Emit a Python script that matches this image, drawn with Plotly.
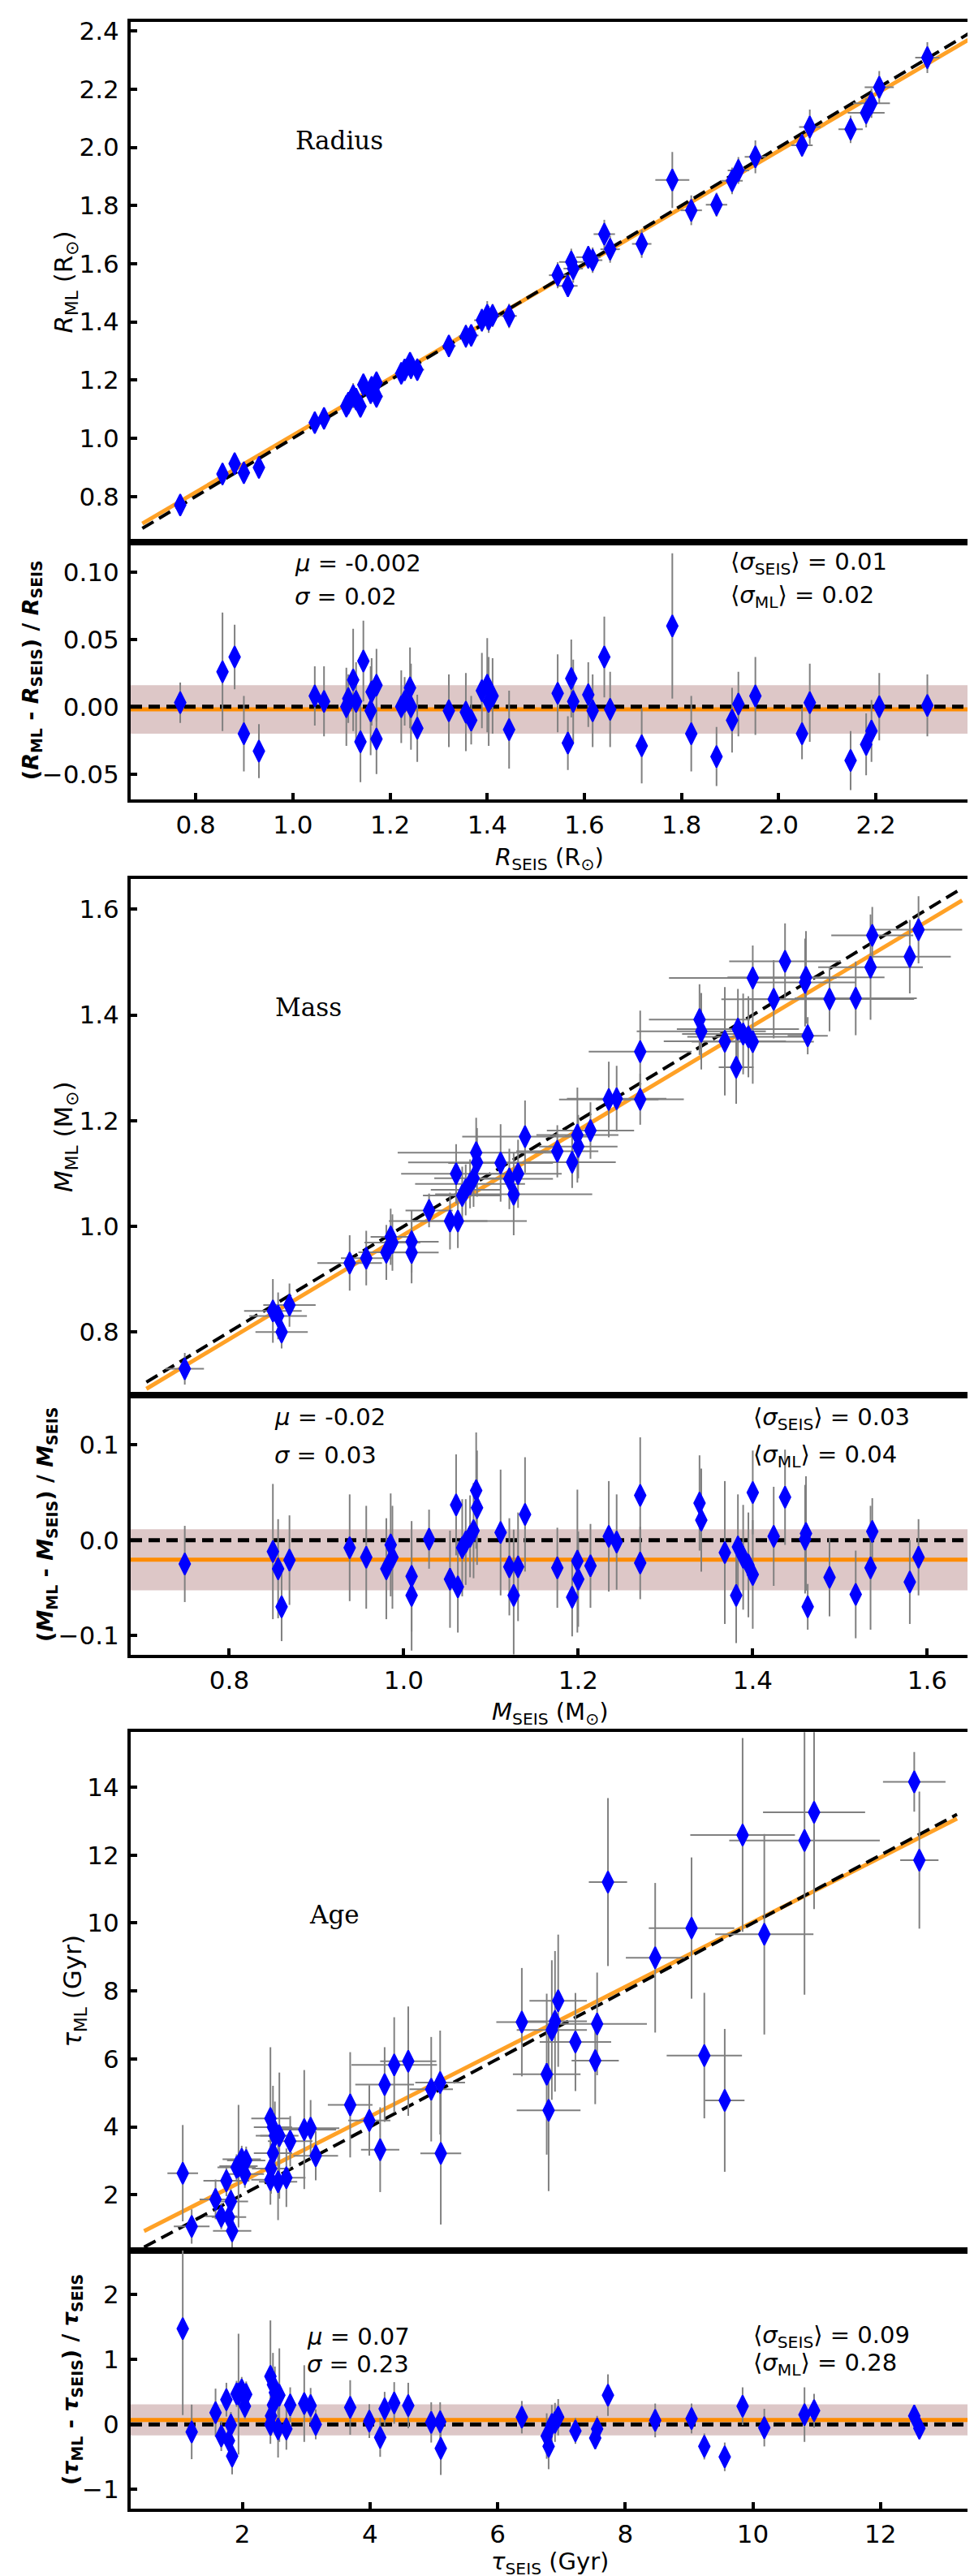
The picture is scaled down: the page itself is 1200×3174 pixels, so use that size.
import plotly.graph_objects as go

# ---------------- Radius ----------------
rad_seis = [0.768, 0.855, 0.880, 0.899, 0.930, 1.045, 1.064, 1.110, 1.114, 1.124,
            1.130, 1.139, 1.145, 1.160, 1.162, 1.172, 1.172, 1.223, 1.230, 1.241,
            1.243, 1.256, 1.321, 1.356, 1.367, 1.389, 1.400, 1.403, 1.411, 1.445,
            1.545, 1.566, 1.573, 1.577, 1.608, 1.617, 1.641, 1.653, 1.718, 1.781,
            1.820, 1.872, 1.904, 1.917, 1.952, 2.048, 2.064, 2.148, 2.180, 2.191,
            2.207, 2.306]
rad_seis_err = [0.008, 0.009, 0.009, 0.009, 0.010, 0.011, 0.011, 0.012, 0.011, 0.012,
                0.012, 0.012, 0.012, 0.013, 0.012, 0.013, 0.013, 0.013, 0.013, 0.013,
                0.014, 0.014, 0.014, 0.015, 0.015, 0.016, 0.016, 0.016, 0.016, 0.016,
                0.018, 0.020, 0.025, 0.020, 0.025, 0.020, 0.022, 0.020, 0.020, 0.035,
                0.022, 0.022, 0.022, 0.022, 0.022, 0.022, 0.022, 0.025, 0.038, 0.038,
                0.030, 0.025]
rad_res = [0.003, 0.026, 0.037, -0.020, -0.033, 0.008, 0.004, 0.000, 0.006, 0.020,
           0.004, -0.026, 0.034, -0.003, 0.011, 0.016, -0.024, 0.000, 0.004, 0.014,
           0.000, -0.016, -0.003, -0.004, -0.010, 0.012, 0.016, 0.004, 0.008, -0.017,
           0.010, -0.027, 0.021, 0.004, 0.009, -0.003, 0.037, -0.002, -0.029, 0.060,
           -0.020, -0.037, -0.010, 0.002, 0.008, -0.020, 0.003, -0.040, -0.028, -0.018,
           0.000, 0.001]
rad_res_err = [0.015, 0.044, 0.024, 0.028, 0.020, 0.022, 0.026, 0.029, 0.018, 0.038,
               0.029, 0.030, 0.030, 0.033, 0.025, 0.027, 0.026, 0.027, 0.018, 0.030,
               0.032, 0.025, 0.027, 0.029, 0.018, 0.028, 0.035, 0.033, 0.028, 0.029,
               0.029, 0.020, 0.029, 0.031, 0.024, 0.027, 0.030, 0.028, 0.028, 0.054,
               0.028, 0.022, 0.024, 0.024, 0.029, 0.019, 0.029, 0.022, 0.023, 0.023,
               0.025, 0.023]
rad_fit = [0.978, 0.032]          # slope, intercept
rad_line_x = [0.69, 2.39]
rad_mu, rad_sig = -0.002, 0.018

# ---------------- Mass ----------------
mass_seis = [0.749, 0.850, 0.856, 0.860, 0.869, 0.938, 0.957, 0.980, 0.985, 0.987,
             1.009, 1.009, 1.029, 1.053, 1.060, 1.062, 1.067, 1.071, 1.076, 1.080,
             1.083, 1.084, 1.111, 1.121, 1.126, 1.131, 1.139, 1.176, 1.193, 1.199,
             1.200, 1.214, 1.235, 1.244, 1.271, 1.271, 1.339, 1.341, 1.368, 1.381,
             1.383, 1.389, 1.395, 1.400, 1.400, 1.424, 1.437, 1.460, 1.461, 1.463,
             1.488, 1.518, 1.535, 1.537, 1.580, 1.590]
mass_seis_err = [0.022, 0.033, 0.033, 0.030, 0.030, 0.037, 0.029, 0.032, 0.023, 0.032,
                 0.031, 0.031, 0.027, 0.043, 0.063, 0.079, 0.045, 0.040, 0.063, 0.045,
                 0.090, 0.079, 0.060, 0.050, 0.090, 0.050, 0.072, 0.047, 0.050, 0.047,
                 0.045, 0.050, 0.057, 0.057, 0.059, 0.050, 0.058, 0.074, 0.070, 0.020,
                 0.070, 0.070, 0.070, 0.070, 0.096, 0.060, 0.064, 0.058, 0.090, 0.023,
                 0.097, 0.070, 0.060, 0.047, 0.047, 0.050]
mass_res = [-0.025, -0.012, -0.030, -0.070, -0.021, -0.008, -0.018, -0.030, -0.005, -0.018,
            -0.038, -0.058, 0.001, -0.041, 0.037, -0.049, -0.008, -0.002, 0.004, 0.010,
            0.052, 0.034, 0.008, -0.028, -0.058, -0.028, 0.027, -0.029, -0.060, -0.022,
            -0.041, -0.027, 0.004, -0.002, 0.047, -0.024, 0.039, 0.021, -0.013, -0.058,
            -0.007, -0.018, -0.026, -0.036, 0.050, 0.004, 0.045, 0.001, 0.007, -0.070,
            -0.039, -0.057, -0.029, 0.009, -0.044, -0.018]
mass_res_err = [0.040, 0.071, 0.052, 0.036, 0.047, 0.056, 0.054, 0.053, 0.054, 0.054,
                0.058, 0.058, 0.031, 0.051, 0.053, 0.048, 0.051, 0.045, 0.043, 0.050,
                0.061, 0.060, 0.066, 0.051, 0.069, 0.057, 0.060, 0.042, 0.041, 0.075,
                0.050, 0.044, 0.058, 0.050, 0.061, 0.038, 0.050, 0.054, 0.075, 0.050,
                0.055, 0.055, 0.055, 0.057, 0.044, 0.052, 0.050, 0.057, 0.060, 0.024,
                0.041, 0.046, 0.065, 0.035, 0.044, 0.040]
mass_fit = [0.989, -0.005]
mass_line_x = [0.705, 1.64]
mass_mu, mass_sig = -0.0206, 0.032

# ---------------- Age ----------------
age_seis = [1.066, 1.206, 1.58, 1.67, 1.75, 1.79, 1.82, 1.84, 1.91, 1.94,
            1.99, 2.04, 2.06, 2.44, 2.44, 2.45, 2.48, 2.48, 2.51, 2.56,
            2.58, 2.69, 2.75, 2.97, 3.07, 3.15, 3.69, 3.99, 4.16, 4.23,
            4.38, 4.60, 4.96, 5.10, 5.11, 6.38, 6.77, 6.80, 6.85, 6.90,
            6.95, 7.22, 7.53, 7.56, 7.73, 8.47, 9.04, 9.24, 9.56, 9.84,
            10.18, 10.81, 10.96, 12.53, 12.61]
age_seis_err = [0.24, 0.28, 0.25, 0.25, 0.36, 0.27, 0.27, 0.30, 0.30, 0.30,
                0.30, 0.30, 0.30, 0.30, 0.30, 0.30, 0.30, 0.30, 0.30, 0.30,
                0.30, 0.30, 0.35, 0.50, 0.45, 0.35, 0.35, 0.33, 0.30, 0.46,
                0.67, 0.44, 0.34, 0.39, 0.32, 0.40, 0.53, 0.50, 0.55, 0.50,
                0.45, 0.56, 0.37, 0.78, 0.30, 0.46, 0.67, 0.59, 0.31, 0.82,
                0.77, 1.18, 0.80, 0.49, 0.30]
age_res = [1.473, -0.116, 0.18, -0.18, 0.38, -0.25, -0.01, -0.49, 0.47, 0.465,
           0.53, 0.28, 0.46, 0.74, 0.0, 0.13, 0.61, 0.30, 0.49, -0.07,
           0.45, -0.07, 0.30, 0.32, 0.29, 0.0, 0.26, 0.05, -0.20, 0.24,
           0.33, 0.29, 0.03, 0.04, -0.37, 0.11, -0.18, -0.34, 0.0, 0.03,
           0.11, -0.10, -0.21, -0.07, 0.45, 0.06, 0.09, -0.34, -0.50, 0.28,
           -0.05, 0.15, 0.21, 0.13, -0.06]
age_res_err = [1.33, 0.42, 0.37, 0.23, 0.26, 0.25, 0.20, 0.28, 0.20, 0.93,
               0.20, 0.20, 0.20, 0.86, 0.30, 0.30, 0.49, 0.30, 0.40, 0.44,
               0.72, 0.32, 0.27, 0.59, 0.27, 0.23, 0.42, 0.26, 0.30, 0.26,
               0.32, 0.35, 0.31, 0.30, 0.41, 0.25, 0.35, 0.35, 0.30, 0.30,
               0.28, 0.20, 0.17, 0.20, 0.32, 0.26, 0.23, 0.20, 0.22, 0.29,
               0.29, 0.42, 0.26, 0.07, 0.16]
age_fit = [0.953, 0.495]
age_line_x = [0.46, 13.2]
age_mu, age_sig = 0.069, 0.239

W, H = 1200, 3174
BLUE = "#0000ff"
GREY = "#808080"
FONT = "DejaVu Sans"

panels = [
    dict(seis=rad_seis, seis_err=rad_seis_err, res=rad_res, res_err=rad_res_err,
         fit=rad_fit, line_x=rad_line_x, mu=rad_mu, sig=rad_sig,
         xr=[0.666, 2.392], yr=[0.644, 2.43], rr=[-0.0688, 0.1226],
         xt=[0.8, 1.0, 1.2, 1.4, 1.6, 1.8, 2.0, 2.2], xf=".1f",
         yt=[0.8, 1.0, 1.2, 1.4, 1.6, 1.8, 2.0, 2.2, 2.4], yf=".1f",
         rt=[-0.05, 0.0, 0.05, 0.10], rf=".2f",
         px=(12.5, 654, 972),
         label="Radius", label_pos=(354, 158),
         ytitle="<i>R</i><sub>ML</sub> (R<sub>⊙</sub>)", ytitle_x=73,
         rtitle="<b>(<i>R</i><sub>ML</sub> - <i>R</i><sub>SEIS</sub>) / <i>R</i><sub>SEIS</sub></b>", rtitle_x=31,
         xtitle="<i>R</i><sub>SEIS</sub> (R<sub>⊙</sub>)", xtitle_bottom=1066,
         stats=("-0.002", "0.02", "0.01", "0.02"),
         stat_left=(353, 680, 722), stat_right=(890, 681, 722)),
    dict(seis=mass_seis, seis_err=mass_seis_err, res=mass_res, res_err=mass_res_err,
         fit=mass_fit, line_x=mass_line_x, mu=mass_mu, sig=mass_sig,
         xr=[0.687, 1.648], yr=[0.680, 1.658], rr=[-0.120, 0.152],
         xt=[0.8, 1.0, 1.2, 1.4, 1.6], xf=".1f",
         yt=[0.8, 1.0, 1.2, 1.4, 1.6], yf=".1f",
         rt=[-0.1, 0.0, 0.1], rf=".1f",
         px=(1070, 1708, 2028),
         label="Mass", label_pos=(329, 1229),
         ytitle="<i>M</i><sub>ML</sub> (M<sub>⊙</sub>)", ytitle_x=73,
         rtitle="<b>(<i>M</i><sub>ML</sub> - <i>M</i><sub>SEIS</sub>) / <i>M</i><sub>SEIS</sub></b>", rtitle_x=50,
         xtitle="<i>M</i><sub>SEIS</sub> (M<sub>⊙</sub>)", xtitle_bottom=2122,
         stats=("-0.02", "0.03", "0.03", "0.04"),
         stat_left=(328, 1735, 1782), stat_right=(918, 1737, 1783)),
    dict(seis=age_seis, seis_err=age_seis_err, res=age_res, res_err=age_res_err,
         fit=age_fit, line_x=age_line_x, mu=age_mu, sig=age_sig,
         xr=[0.25, 13.39], yr=[0.36, 15.62], rr=[-1.30, 2.677],
         xt=[2, 4, 6, 8, 10, 12], xf="d",
         yt=[2, 4, 6, 8, 10, 12, 14], yf="d",
         rt=[-1, 0, 1, 2], rf="d",
         px=(2124, 2764, 3083),
         label="Age", label_pos=(371, 2349),
         ytitle="<i>τ</i><sub>ML</sub> (Gyr)", ytitle_x=84,
         rtitle="<b>(<i>τ</i><sub>ML</sub> - <i>τ</i><sub>SEIS</sub>) / <i>τ</i><sub>SEIS</sub></b>", rtitle_x=80,
         xtitle="<i>τ</i><sub>SEIS</sub> (Gyr)", xtitle_bottom=3171,
         stats=("0.07", "0.23", "0.09", "0.28"),
         stat_left=(368, 2870, 2904), stat_right=(918, 2870, 2904)),
]

fig = go.Figure()
layout = {}
shapes = []
annotations = []
x_dom = [153 / W, 1186 / W]
tick_font = dict(family=FONT, size=31, color="black")


def py(v):
    return 1 - v / H


def ann(text, x, y, size=29, family=FONT, xanchor="left", yanchor="middle", angle=0):
    annotations.append(dict(text=text, x=x / W, y=py(y), xref="paper", yref="paper",
                            xanchor=xanchor, yanchor=yanchor, showarrow=False,
                            textangle=angle, font=dict(family=family, size=size, color="black")))


for k, p in enumerate(panels):
    im, ir = 2 * k + 1, 2 * k + 2
    mx = "x" if im == 1 else f"x{im}"
    my = "y" if im == 1 else f"y{im}"
    rx, ry = f"x{ir}", f"y{ir}"
    top, mid, bot = p["px"]

    # ML values follow from SEIS + fractional residual
    ml = [s * (1 + r) for s, r in zip(p["seis"], p["res"])]
    ml_err = [s * e for s, e in zip(p["seis"], p["res_err"])]
    a, b = p["fit"]

    fig.add_trace(go.Scatter(x=p["line_x"], y=[a * v + b for v in p["line_x"]], mode="lines",
                             line=dict(color="#ffa126", width=5), xaxis=mx, yaxis=my))
    fig.add_trace(go.Scatter(x=p["line_x"], y=p["line_x"], mode="lines",
                             line=dict(color="black", width=4, dash="16px,8px"), xaxis=mx, yaxis=my))
    fig.add_trace(go.Scatter(
        x=p["seis"], y=ml, mode="markers", xaxis=mx, yaxis=my,
        marker=dict(symbol="diamond-tall", size=19, color=BLUE, line=dict(color=BLUE, width=2)),
        error_x=dict(type="data", array=p["seis_err"], color=GREY, thickness=2, width=0),
        error_y=dict(type="data", array=ml_err, color=GREY, thickness=2, width=0)))
    fig.add_trace(go.Scatter(
        x=p["seis"], y=p["res"], mode="markers", xaxis=rx, yaxis=ry,
        marker=dict(symbol="diamond-tall", size=19, color=BLUE, line=dict(color=BLUE, width=2)),
        error_y=dict(type="data", array=p["res_err"], color=GREY, thickness=2, width=0)))

    axis_common = dict(showline=True, mirror=True, linecolor="black", linewidth=4,
                       showgrid=False, zeroline=False)
    tick_common = dict(ticks="inside", ticklen=8, tickwidth=4, tickcolor="black", tickfont=tick_font)
    layout["xaxis" if im == 1 else f"xaxis{im}"] = dict(
        domain=x_dom, range=p["xr"], anchor=my, showticklabels=False, ticks="", **axis_common)
    layout["yaxis" if im == 1 else f"yaxis{im}"] = dict(
        domain=[py(mid), py(top)], range=p["yr"], anchor=mx, tickvals=p["yt"],
        tickformat=p["yf"], ticklabelstandoff=4, **axis_common, **tick_common)
    layout[f"xaxis{ir}"] = dict(
        domain=x_dom, range=p["xr"], anchor=ry, tickvals=p["xt"], tickformat=p["xf"],
        ticklabelstandoff=1, **axis_common, **tick_common)
    layout[f"yaxis{ir}"] = dict(
        domain=[py(bot), py(mid)], range=p["rr"], anchor=rx, tickvals=p["rt"],
        tickformat=p["rf"], ticklabelstandoff=4, **axis_common, **tick_common)

    # residual band, mean line and zero line
    shapes.append(dict(type="rect", xref=f"{rx} domain", yref=ry, x0=0, x1=1,
                       y0=p["mu"] - p["sig"], y1=p["mu"] + p["sig"],
                       fillcolor="rgba(188,143,143,0.5)", line=dict(width=0), layer="below"))
    shapes.append(dict(type="line", xref=f"{rx} domain", yref=ry, x0=0, x1=1,
                       y0=p["mu"], y1=p["mu"], line=dict(color="#ff8c00", width=5), layer="below"))
    shapes.append(dict(type="line", xref=f"{rx} domain", yref=ry, x0=0, x1=1,
                       y0=0, y1=0, line=dict(color="black", width=5, dash="14px,8px"), layer="below"))

    # texts
    ann(p["label"], *p["label_pos"], size=31, family="DejaVu Serif")
    ann(p["ytitle"], p["ytitle_x"], (top + mid) / 2, size=31, xanchor="center", angle=-90)
    ann(p["rtitle"], p["rtitle_x"], (mid + bot) / 2, size=27, xanchor="center", angle=-90)
    ann(p["xtitle"], 669, p["xtitle_bottom"], size=29, xanchor="center", yanchor="bottom")
    mu_t, sig_t, sseis_t, sml_t = p["stats"]
    lx, ly1, ly2 = p["stat_left"]
    rxp, ry1, ry2 = p["stat_right"]
    ann(f"<i>μ</i> = {mu_t}", lx, ly1)
    ann(f"<i>σ</i> = {sig_t}", lx, ly2)
    ann(f"⟨<i>σ</i><sub>SEIS</sub>⟩ = {sseis_t}", rxp, ry1)
    ann(f"⟨<i>σ</i><sub>ML</sub>⟩ = {sml_t}", rxp, ry2)

fig.update_layout(**layout)
fig.update_layout(shapes=shapes, annotations=annotations, showlegend=False,
                  width=W, height=H, margin=dict(l=0, r=0, t=0, b=0),
                  plot_bgcolor="white", paper_bgcolor="white")
fig.write_html("out.html")
